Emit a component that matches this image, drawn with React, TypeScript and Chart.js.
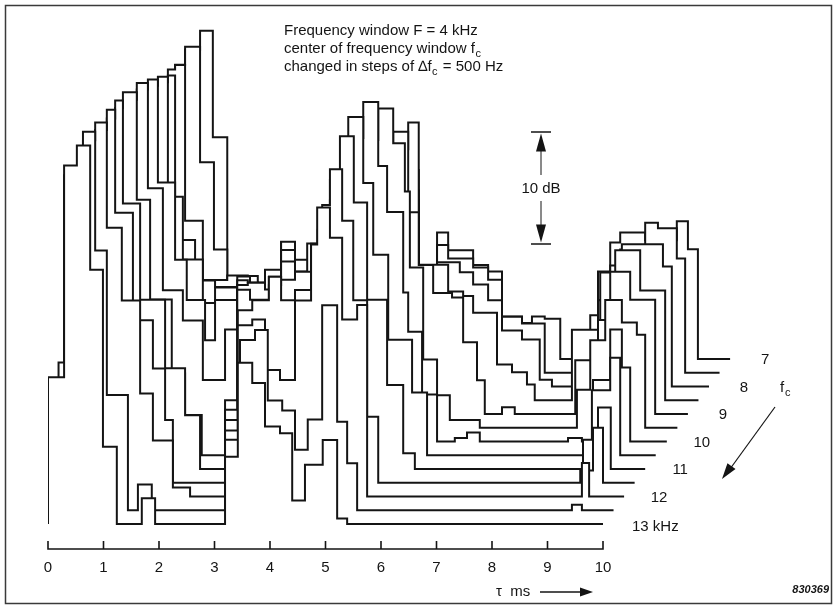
import React, { useEffect, useRef } from 'react';
import { Chart, registerables } from 'chart.js';
Chart.register(...registerables);

// tau axis ticks (ms)
const TICKS = [0, 1, 2, 3, 4, 5, 6, 7, 8, 9, 10];
// centre frequencies (kHz), front (13 kHz) to back (7 kHz)
const FREQS = [13, 12.5, 12, 11.5, 11, 10.5, 10, 9.5, 9, 8.5, 8, 7.5, 7];
// vertical offset between successive curves (dB)
const STEP_DB = 1.228;
// top of the 10 dB scale bar (dB on the 13 kHz baseline)
const BAR_TOP_DB = 35;

// each curve: [tau as read on the axis (ms), level above its own baseline (dB)]
const c13 = [[0,0],[0,13.1],[0.29,32.0],[0.52,33.8],[0.76,22.7],[0.99,6.9],[1.24,0],[1.69,2.3],[1.93,0],[3.19,6.0],[3.42,14.4],[3.68,12.6],[3.91,8.7],[4.18,8.1],[4.40,2.1],[4.63,5.3],[4.95,7.5],[5.21,0.5],[5.39,0],[10,0]];
const c125 = [[0.19,0],[0.19,13.2],[0.29,29.9],[0.63,33.8],[0.85,23.2],[1.06,10.3],[1.44,0],[1.62,2.3],[1.87,0],[3.19,6.3],[3.46,15.2],[3.73,16.1],[3.96,9.8],[4.22,8.9],[4.45,5.4],[4.68,8.1],[4.94,18.3],[5.21,7.9],[5.39,4.2],[5.57,0],[9.44,0.5],[9.62,0],[10.19,0]];
const c12 = [[0.38,0],[0.38,13.1],[0.63,31.8],[0.85,33.4],[1.06,24.0],[1.33,17.5],[1.66,9.2],[1.89,5.0],[2.25,0.8],[2.56,0],[3.19,5.9],[3.42,15.3],[3.68,15.8],[3.91,11.3],[4.18,10.4],[4.45,17.5],[4.74,22.5],[4.85,25.8],[5.08,23.1],[5.30,15.8],[5.57,17.1],[5.75,0],[9.62,3.0],[9.75,0],[10.38,0]];
const c115 = [[0.57,0],[0.57,13.2],[0.85,31.5],[1.06,33.3],[1.21,24.1],[1.53,14.5],[1.89,10.2],[2.11,5.6],[2.25,0],[3.19,5.6],[3.42,15.4],[3.68,16.3],[3.98,18.4],[4.20,16.3],[4.45,17.2],[4.74,20.8],[4.94,24.8],[5.08,28.0],[5.30,23.4],[5.50,16.3],[5.75,5.9],[5.95,0],[9.59,1.1],[9.82,4.9],[10.0,0],[10.57,0]];
const c11 = [[0.76,0],[0.76,13.3],[1.06,31.3],[1.21,32.9],[1.35,23.7],[1.66,15.1],[2.11,9.0],[2.47,4.8],[2.74,0],[3.19,5.3],[3.41,16.0],[3.64,15.1],[3.98,16.4],[4.20,16.9],[4.45,17.6],[4.74,20.1],[5.08,24.0],[5.26,29.7],[5.51,23.8],[5.75,15.1],[6.11,7.5],[6.40,1.4],[6.61,0],[9.64,2.6],[9.91,5.5],[10.14,0],[10.76,0]];
const c105 = [[0.95,0],[0.95,13.4],[1.21,31.0],[1.35,32.4],[1.60,22.8],[1.84,13.9],[2.23,7.3],[2.47,3.6],[2.77,0],[3.19,4.9],[3.41,15.2],[3.60,15.4],[3.91,14.8],[4.20,17.3],[4.45,16.4],[4.67,18.9],[5.08,24.6],[5.41,30.2],[5.68,24.3],[5.86,17.9],[6.13,10.3],[6.56,5.6],[6.83,0],[9.80,5.8],[10.13,8.7],[10.31,0],[10.95,0]];
const c10 = [[1.15,0],[1.15,13.1],[1.35,30.5],[1.60,32.0],[1.80,22.6],[2.07,13.5],[2.43,10.8],[2.79,5.5],[3.19,10.0],[3.41,14.4],[3.60,14.2],[3.78,13.5],[3.98,14.7],[4.20,17.1],[4.45,15.1],[4.67,14.2],[4.86,18.9],[5.30,21.6],[5.53,27.1],[5.68,30.3],[5.95,24.6],[6.11,20.5],[6.40,13.3],[6.49,9.8],[6.74,4.2],[7.01,0],[7.33,0.3],[7.55,0.8],[7.78,0],[9.37,0.3],[9.62,0],[9.82,5.5],[10.13,10.0],[10.34,6.6],[10.49,0],[11.15,0]];
const c95 = [[1.34,0],[1.34,13.2],[1.60,30.2],[1.80,31.1],[1.98,21.9],[2.29,15.0],[2.50,11.4],[2.83,7.8],[3.01,11.4],[3.41,13.5],[3.64,12.9],[3.91,14.1],[4.20,16.6],[4.45,15.0],[4.72,12.9],[4.94,16.4],[5.30,20.3],[5.68,25.7],[5.95,28.5],[6.22,25.4],[6.43,21.1],[6.52,14.3],[6.76,6.1],[7.01,2.9],[7.24,0.7],[7.78,0],[9.53,3.4],[9.77,7.8],[10.04,11.4],[10.34,9.4],[10.61,8.3],[10.76,0],[11.34,0]];
const c9 = [[1.53,0],[1.53,13.0],[1.80,29.3],[1.98,30.1],[2.16,19.4],[2.43,13.8],[2.79,9.9],[3.01,11.3],[3.46,11.5],[3.78,11.7],[4.20,14.2],[4.45,12.7],[4.94,13.0],[5.30,16.4],[5.89,22.1],[6.22,25.2],[6.49,18.0],[6.68,13.3],[6.94,10.8],[7.28,10.4],[7.48,6.4],[7.73,3.0],[7.87,0],[8.18,0.6],[8.41,0],[9.50,4.8],[9.91,8.4],[10.13,12.7],[10.49,10.2],[10.94,0],[11.53,0]];
const c85 = [[1.72,0],[1.72,13.0],[1.98,28.4],[2.16,29.0],[2.29,14.3],[2.65,10.7],[3.01,10.1],[3.46,11.1],[3.78,10.5],[3.98,11.0],[4.20,14.1],[4.45,11.4],[4.72,10.5],[5.08,11.8],[5.51,16.0],[6.04,22.4],[6.49,24.8],[6.68,12.1],[7.21,9.7],[7.48,9.3],[7.66,7.8],[8.09,3.2],[8.36,2.5],[8.63,1.4],[8.77,0],[9.44,6.3],[9.95,11.4],[10.22,13.4],[10.67,9.8],[11.12,0],[11.72,0]];
const c8 = [[1.91,0],[1.91,13.1],[2.16,28.3],[2.29,28.7],[2.47,14.8],[2.79,9.5],[3.23,9.9],[3.60,9.2],[3.98,9.8],[4.20,11.3],[4.45,10.2],[4.94,10.6],[5.30,12.2],[5.75,16.5],[6.22,21.7],[6.49,17.5],[6.68,9.1],[7.01,11.1],[7.42,10.2],[7.66,9.1],[7.93,7.7],[8.18,5.0],[8.54,4.2],[8.86,0.6],[9.08,0],[9.91,7.7],[10.13,10.8],[10.34,12.7],[11.08,10.7],[11.24,0],[11.91,0]];
const c75 = [[2.10,0],[2.10,12.7],[2.29,27.5],[2.47,29.1],[2.74,18.8],[2.99,11.0],[3.23,7.7],[3.60,8.0],[3.98,8.5],[4.20,9.2],[4.45,9.0],[4.94,9.4],[5.30,10.1],[5.86,16.9],[6.43,18.1],[6.68,8.3],[7.01,11.4],[7.21,10.2],[7.66,9.4],[7.93,8.3],[8.18,5.0],[8.54,4.4],[8.95,0],[9.91,6.5],[10.13,9.0],[10.31,11.0],[10.76,13.4],[10.99,12.9],[11.33,10.2],[11.48,0],[12.10,0]];
const c7 = [[2.29,0],[2.29,12.4],[2.47,27.6],[2.74,29.3],[2.97,19.8],[3.23,7.1],[3.46,6.6],[3.78,6.2],[4.20,7.9],[4.45,6.8],[4.94,8.1],[5.30,8.4],[6.11,17.2],[6.43,14.2],[6.68,7.8],[7.01,11.3],[7.21,9.7],[7.66,8.4],[7.93,7.8],[8.18,3.8],[8.54,3.2],[8.72,3.8],[8.95,3.6],[9.23,0],[9.77,3.9],[9.91,7.8],[10.13,10.4],[10.31,11.3],[10.76,10.6],[11.33,12.3],[11.53,9.8],[11.71,0],[12.29,0]];

const CURVES = [c13, c125, c12, c115, c11, c105, c10, c95, c9, c85, c8, c75, c7];

const FONT = '"Liberation Sans", Arial, Helvetica, sans-serif';
const INK = '#141414';

function arrowHead(ctx: CanvasRenderingContext2D, tx: number, ty: number, fx: number, fy: number, len: number, half: number) {
  const ang = Math.atan2(ty - fy, tx - fx);
  const bx = tx - Math.cos(ang) * len;
  const by = ty - Math.sin(ang) * len;
  const nx = -Math.sin(ang) * half;
  const ny = Math.cos(ang) * half;
  ctx.beginPath();
  ctx.moveTo(tx, ty);
  ctx.lineTo(bx + nx, by + ny);
  ctx.lineTo(bx - nx, by - ny);
  ctx.closePath();
  ctx.fill();
}

const overlay = {
  id: 'overlay',
  afterDraw(chart: any) {
    const ctx: CanvasRenderingContext2D = chart.ctx;
    const xs = chart.scales.x;
    const ys = chart.scales.y;
    const area = chart.chartArea;
    ctx.save();
    ctx.strokeStyle = INK;
    ctx.fillStyle = INK;

    // frame
    ctx.lineWidth = 1.5;
    ctx.strokeStyle = '#3a3a3a';
    ctx.strokeRect(5.5, 5.5, 826, 598);
    ctx.strokeStyle = INK;

    // tau axis line with upward ticks
    const y0 = area.bottom;
    ctx.lineWidth = 1.6;
    ctx.beginPath();
    ctx.moveTo(xs.getPixelForValue(TICKS[0]), y0);
    ctx.lineTo(xs.getPixelForValue(TICKS[TICKS.length - 1]), y0);
    TICKS.forEach((t) => {
      const px = xs.getPixelForValue(t);
      ctx.moveTo(px, y0 + 0.8);
      ctx.lineTo(px, y0 - 8);
    });
    ctx.stroke();

    // axis caption
    ctx.font = `15px ${FONT}`;
    ctx.textBaseline = 'middle';
    ctx.textAlign = 'left';
    ctx.fillText('\u03C4  ms', 496, 592);
    ctx.lineWidth = 1.4;
    ctx.beginPath();
    ctx.moveTo(540, 592);
    ctx.lineTo(582, 592);
    ctx.stroke();
    arrowHead(ctx, 593, 592, 540, 592, 13, 4.5);

    // figure number
    ctx.font = `italic bold 11px ${FONT}`;
    ctx.textAlign = 'right';
    ctx.fillText('830369', 829, 590);

    // header text
    ctx.textAlign = 'left';
    ctx.textBaseline = 'alphabetic';
    const tx = 284;
    ctx.font = `15px ${FONT}`;
    ctx.fillText('Frequency window F = 4 kHz', tx, 35);
    const l2 = 'center of frequency window f';
    ctx.fillText(l2, tx, 52.5);
    let w = ctx.measureText(l2).width;
    ctx.font = `11px ${FONT}`;
    ctx.fillText('c', tx + w + 0.5, 56.5);
    ctx.font = `15px ${FONT}`;
    const l3a = 'changed in steps of \u2206f';
    ctx.fillText(l3a, tx, 70.5);
    w = ctx.measureText(l3a).width;
    ctx.font = `11px ${FONT}`;
    ctx.fillText('c', tx + w + 0.5, 74.5);
    const wc = ctx.measureText('c').width;
    ctx.font = `15px ${FONT}`;
    ctx.fillText(' = 500 Hz', tx + w + wc + 1.5, 70.5);

    // 10 dB scale bar
    const bx = 541;
    const yt = ys.getPixelForValue(BAR_TOP_DB);
    const yb = ys.getPixelForValue(BAR_TOP_DB - 10);
    ctx.lineWidth = 1.5;
    ctx.beginPath();
    ctx.moveTo(bx - 10, yt); ctx.lineTo(bx + 10, yt);
    ctx.moveTo(bx - 10, yb); ctx.lineTo(bx + 10, yb);
    ctx.stroke();
    ctx.lineWidth = 1;
    ctx.beginPath();
    ctx.moveTo(bx, yt + 16); ctx.lineTo(bx, yt + 43);
    ctx.moveTo(bx, yb - 16); ctx.lineTo(bx, yb - 43);
    ctx.stroke();
    arrowHead(ctx, bx, yt + 1.5, bx, yt + 30, 18, 5);
    arrowHead(ctx, bx, yb - 1.5, bx, yb - 30, 18, 5);
    ctx.font = `15px ${FONT}`;
    ctx.textAlign = 'center';
    ctx.textBaseline = 'middle';
    ctx.fillText('10 dB', bx, (yt + yb) / 2 + 1);

    // curve labels at the baseline end of every whole-kHz curve
    CURVES.forEach((pts, k) => {
      if (k % 2 !== 0) return;
      const end = pts[pts.length - 1][0];
      const ex = xs.getPixelForValue(end);
      const ey = ys.getPixelForValue(k * STEP_DB);
      ctx.font = `15px ${FONT}`;
      ctx.textBaseline = 'middle';
      if (k === 0) {
        ctx.textAlign = 'left';
        ctx.fillText(`${FREQS[k]} kHz`, ex + 29, ey + 3);
      } else {
        ctx.textAlign = 'center';
        ctx.fillText(String(FREQS[k]), ex + 35, ey + 1);
      }
    });

    // f_c direction arrow
    ctx.textAlign = 'left';
    ctx.textBaseline = 'alphabetic';
    ctx.font = `15px ${FONT}`;
    ctx.fillText('f', 780, 392);
    ctx.font = `11px ${FONT}`;
    ctx.fillText('c', 785, 396);
    ctx.lineWidth = 1.2;
    ctx.beginPath();
    ctx.moveTo(775, 407);
    ctx.lineTo(730, 469);
    ctx.stroke();
    arrowHead(ctx, 722, 479, 775, 407, 16, 5);

    ctx.restore();
  },
};

export default function App() {
  const ref = useRef<HTMLCanvasElement>(null);
  useEffect(() => {
    const canvas = ref.current;
    if (!canvas) return;
    const chart = new Chart(canvas, {
      type: 'line',
      data: {
        datasets: CURVES.map((pts, k) => ({
          label: `${FREQS[k]} kHz`,
          data: pts.map(([t, v]) => ({ x: t, y: v + k * STEP_DB })),
          stepped: true,
          borderColor: INK,
          borderWidth: 2,
          borderJoinStyle: 'miter' as const,
          pointRadius: 0,
          backgroundColor: '#ffffff',
          fill: { value: k * STEP_DB },
          order: k,
        })),
      },
      options: {
        responsive: false,
        animation: false,
        devicePixelRatio: 1,
        events: [],
        layout: { padding: { left: 48, right: 37.75, top: 15, bottom: 21 } },
        plugins: {
          legend: { display: false },
          tooltip: { enabled: false },
          filler: { propagate: false },
        },
        scales: {
          x: {
            type: 'linear',
            min: 0,
            max: 13.5,
            afterBuildTicks: (s: any) => {
              s.ticks = TICKS.map((v) => ({ value: v }));
            },
            grid: { display: false, drawTicks: false },
            border: { display: false },
            ticks: {
              color: INK,
              font: { family: FONT, size: 15 },
              padding: 10,
              maxRotation: 0,
              autoSkip: false,
              callback: (v: any) => String(v),
            },
          },
          y: { type: 'linear', display: false, min: -2.232, max: 45.446 },
        },
      },
      plugins: [overlay],
    } as any);
    return () => chart.destroy();
  }, []);
  return (
    <div style={{ position: 'absolute', left: 0, top: 0, width: 835, height: 608, background: '#fff' }}>
      <canvas ref={ref} width={835} height={608} style={{ display: 'block' }} />
    </div>
  );
}
